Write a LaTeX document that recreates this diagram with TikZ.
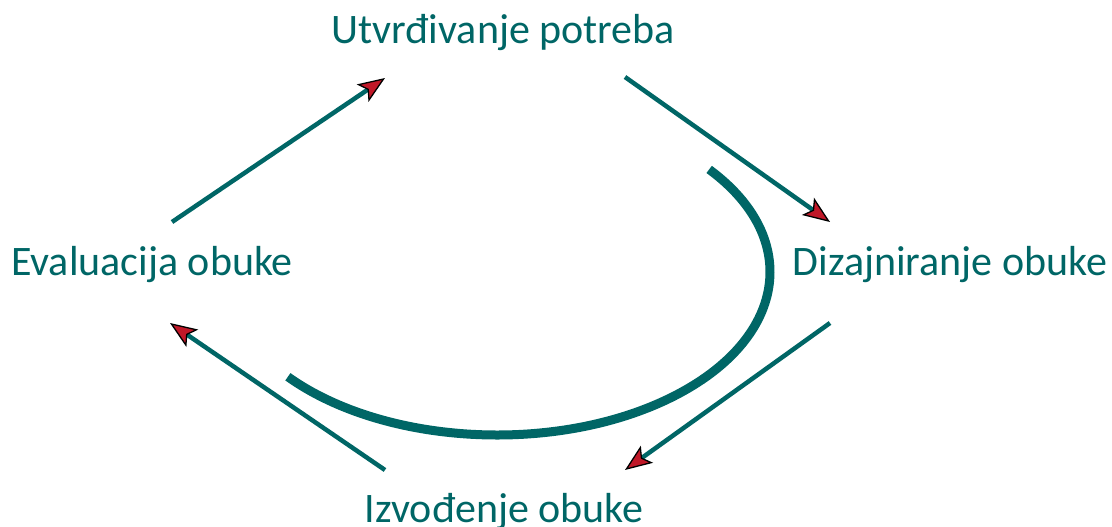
\documentclass[tikz,border=0pt]{standalone}
\usepackage{fontspec}
\setmainfont{Carlito}
\usetikzlibrary{arrows.meta,calc}
\definecolor{teal1}{RGB}{0,102,102}
\definecolor{tipred}{RGB}{192,24,40}
\begin{document}
\begin{tikzpicture}[x=1pt,y=-1pt,
  lbl/.style={text=teal1,font=\fontsize{42}{46}\selectfont,inner sep=0pt,anchor=base},
  conn/.style={draw=teal1,line width=4.5pt,
    -{Stealth[length=27pt,width=21pt,inset=6pt,fill=tipred,color=black,line width=1.3pt]}},
  cyc/.style={draw=teal1,line width=9pt}]
\useasboundingbox (0,0) rectangle (1112,527);
\node[lbl] (ut) at (503,44) {Utvrđivanje potreba};
\node[lbl] (di) at (950,275) {Dizajniranje obuke};
\node[lbl] (iz) at (504,522) {Izvođenje obuke};
\node[lbl] (ev) at (152,275) {Evaluacija obuke};
\coordinate (a1s) at (172,222); \coordinate (a1e) at (385,78);
\coordinate (a2s) at (625,77);  \coordinate (a2e) at (830,222);
\coordinate (a3s) at (830,323); \coordinate (a3e) at (625,470);
\coordinate (a4s) at (385,470); \coordinate (a4e) at (170,323);
\draw[conn] (a1s) -- (a1e);
\draw[conn] (a2s) -- (a2e);
\draw[conn] (a3s) -- (a3e);
\draw[conn] (a4s) -- (a4e);
\coordinate (c) at (497,272);
\draw[cyc] ($(c)+(140:273 and 163)$) arc[start angle=140,end angle=-39,x radius=273,y radius=163];
\end{tikzpicture}
\end{document}
